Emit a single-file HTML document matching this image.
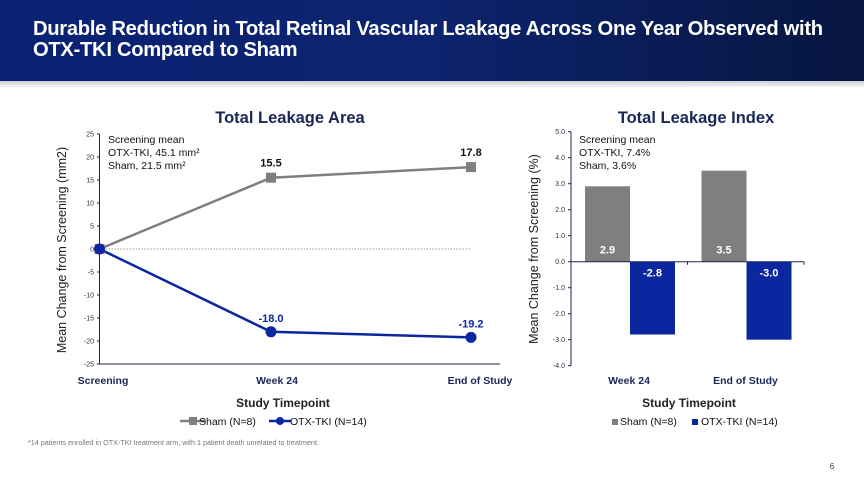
<!DOCTYPE html>
<html><head><meta charset="utf-8"><style>
body{margin:0;width:864px;height:486px;overflow:hidden;background:#fff;font-family:"Liberation Sans",sans-serif;position:relative}
.hdr{position:absolute;left:0;top:0;width:864px;height:81px;background:linear-gradient(90deg,#0a2274 0%,#0c236e 50%,#07163f 100%)}
.hdr h1{margin:0;position:absolute;left:33px;top:19px;color:#fff;font-size:20.2px;line-height:21px;font-weight:bold;letter-spacing:-0.3px}
.shadow{position:absolute;left:0;top:81px;width:864px;height:6px;background:linear-gradient(#cfcfd4,#f4f4f4)}
svg{position:absolute;left:0;top:0}
</style></head><body>
<div class="hdr"><h1>Durable Reduction in Total Retinal Vascular Leakage Across One Year Observed with<br>OTX-TKI Compared to Sham</h1></div>
<div class="shadow"></div>
<svg id="c" width="864" height="486" font-family="Liberation Sans, sans-serif"></svg>
<script>
const lineCats=["Screening","Week 24","End of Study"];
const shamLine=[0,15.5,17.8];
const otxLine=[0,-18.0,-19.2];
const lineTicks=[25,20,15,10,5,0,-5,-10,-15,-20,-25];
const barCats=["Week 24","End of Study"];
const shamBar=[2.9,3.5];
const otxBar=[-2.8,-3.0];
const barTicks=[5,4,3,2,1,0,-1,-2,-3,-4];
const svg=document.getElementById('c');const NS='http://www.w3.org/2000/svg';
function el(t,a,txt){const e=document.createElementNS(NS,t);for(const k in a)e.setAttribute(k,a[k]);if(txt!==undefined)e.textContent=txt;svg.appendChild(e);return e;}
const navy='#1a2757',blue='#0a27a0',gray='#7f7f7f';
const ly=v=>249-v*4.6; const lx=i=>[99.5,271,471][i];
let t=el('text',{x:290,y:123,'text-anchor':'middle','font-size':16.5,'font-weight':'bold',fill:navy},'Total Leakage Area');

let a=el('line',{x1:99.5,y1:134,x2:99.5,y2:364,stroke:navy,'stroke-width':1});

a=el('line',{x1:99.5,y1:364,x2:500,y2:364,stroke:navy,'stroke-width':1});

lineTicks.forEach(v=>{let tk=el('text',{x:94,y:ly(v)+2.5,'text-anchor':'end','font-size':7,fill:'#333'},v);

el('line',{x1:97,y1:ly(v),x2:99.5,y2:ly(v),stroke:navy});});
a=el('line',{x1:99.5,y1:ly(0),x2:471,y2:ly(0),stroke:'#999','stroke-dasharray':'1.5,1.5'});

lineCats.forEach((c,i)=>{let tk=el('text',{x:[103,277,480][i],y:384,'text-anchor':'middle','font-size':10.5,'font-weight':'bold',fill:navy},c);
});
t=el('text',{x:0,y:0,transform:'translate(66,250) rotate(-90)','text-anchor':'middle','font-size':12.5,fill:'#222'},'Mean Change from Screening (mm2)');

t=el('text',{x:283,y:407,'text-anchor':'middle','font-size':12,'font-weight':'bold',fill:'#222'},'Study Timepoint');

['Screening mean','OTX-TKI, 45.1 mm²','Sham, 21.5 mm²'].forEach((s,i)=>{let n=el('text',{x:108,y:143+i*13,'font-size':10.5,fill:'#111'},s);
});
let p=el('polyline',{points:shamLine.map((v,i)=>lx(i)+','+ly(v)).join(' '),fill:'none',stroke:gray,'stroke-width':2.5});

p=el('polyline',{points:otxLine.map((v,i)=>lx(i)+','+ly(v)).join(' '),fill:'none',stroke:blue,'stroke-width':2.5});

shamLine.forEach((v,i)=>{let m=el('rect',{x:lx(i)-5,y:ly(v)-5,width:10,height:10,fill:gray});

if(i>0){let l=el('text',{x:lx(i),y:ly(v)-11,'text-anchor':'middle','font-size':11,'font-weight':'bold',fill:'#111'},v.toFixed(1));
}});
otxLine.forEach((v,i)=>{let m=el('circle',{cx:lx(i),cy:ly(v),r:5.5,fill:blue});

if(i>0){let l=el('text',{x:lx(i),y:ly(v)-10,'text-anchor':'middle','font-size':11,'font-weight':'bold',fill:blue},v.toFixed(1));
}});
el('line',{x1:180,y1:421,x2:206,y2:421,stroke:gray,'stroke-width':2.5});el('rect',{x:189,y:417,width:8,height:8,fill:gray});
t=el('text',{x:199,y:425,'font-size':10.5,fill:'#111'},'Sham (N=8)');
el('line',{x1:269,y1:421,x2:291,y2:421,stroke:blue,'stroke-width':2.5});el('circle',{cx:280,cy:421,r:4,fill:blue});
t=el('text',{x:290,y:425,'font-size':10.5,fill:'#111'},'OTX-TKI (N=14)');
const by=v=>261.7-v*26; const gx=i=>571+i*116.5;
t=el('text',{x:696,y:123,'text-anchor':'middle','font-size':16.5,'font-weight':'bold',fill:navy},'Total Leakage Index');

a=el('line',{x1:571,y1:by(5),x2:571,y2:by(-4),stroke:navy});
barTicks.forEach(v=>{let tk=el('text',{x:565,y:by(v)+2.5,'text-anchor':'end','font-size':7,fill:'#333'},v.toFixed(1));

el('line',{x1:568,y1:by(v),x2:571,y2:by(v),stroke:navy});});
barCats.forEach((c,i)=>{const x0=gx(i)+14;
let b=el('rect',{x:x0,y:by(shamBar[i]),width:45,height:by(0)-by(shamBar[i]),fill:gray});
b=el('rect',{x:x0+45,y:by(0),width:45,height:by(otxBar[i])-by(0),fill:blue});
let l=el('text',{x:x0+22.5,y:by(0)-8,'text-anchor':'middle','font-size':11,'font-weight':'bold',fill:'#fff'},shamBar[i].toFixed(1));
l=el('text',{x:x0+67.5,y:by(0)+15,'text-anchor':'middle','font-size':11,'font-weight':'bold',fill:'#fff'},otxBar[i].toFixed(1));
l=el('text',{x:gx(i)+58,y:384,'text-anchor':'middle','font-size':10.5,'font-weight':'bold',fill:navy},c);});
a=el('line',{x1:571,y1:by(0),x2:804,y2:by(0),stroke:navy});
[687.5,804].forEach(x=>el('line',{x1:x,y1:by(0),x2:x,y2:by(0)+3,stroke:navy}));
t=el('text',{x:0,y:0,transform:'translate(538,249) rotate(-90)','text-anchor':'middle','font-size':12.5,fill:'#222'},'Mean Change from Screening (%)');

t=el('text',{x:689,y:407,'text-anchor':'middle','font-size':12,'font-weight':'bold',fill:'#222'},'Study Timepoint');

['Screening mean','OTX-TKI, 7.4%','Sham, 3.6%'].forEach((s,i)=>{let n=el('text',{x:579,y:143+i*13,'font-size':10.5,fill:'#111'},s);
});
el('rect',{x:612,y:419,width:6,height:6,fill:gray});
t=el('text',{x:620,y:425,'font-size':10.5,fill:'#111'},'Sham (N=8)');
el('rect',{x:692,y:419,width:6,height:6,fill:blue});
t=el('text',{x:701,y:425,'font-size':10.5,fill:'#111'},'OTX-TKI (N=14)');
t=el('text',{x:28,y:445,'font-size':7.2,fill:'#777'},'*14 patients enrolled in OTX-TKI treatment arm, with 1 patient death unrelated to treatment.');

t=el('text',{x:832,y:469,'text-anchor':'middle','font-size':8,fill:'#333'},'6');

</script>
</body></html>
